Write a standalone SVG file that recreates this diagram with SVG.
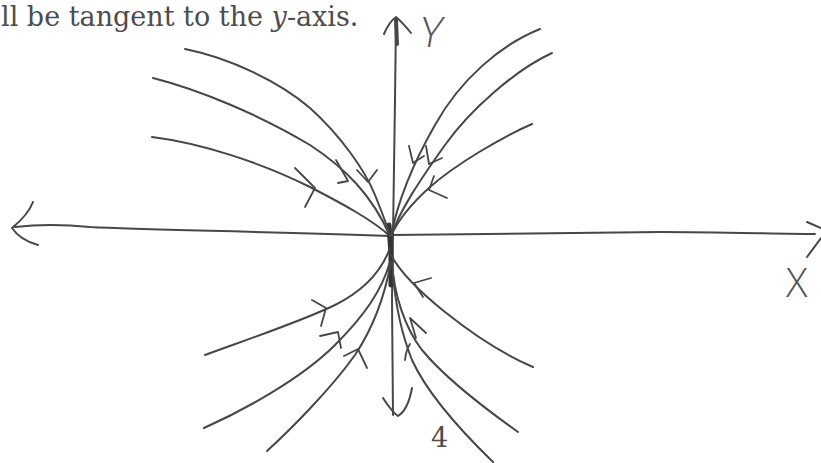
<svg xmlns="http://www.w3.org/2000/svg" width="821" height="463" viewBox="0 0 821 463">
<style>
.ln{fill:none;stroke:#474747;stroke-width:2;stroke-linecap:round;stroke-linejoin:round}
.ar{fill:none;stroke:#474747;stroke-width:1.8;stroke-linecap:round;stroke-linejoin:round}
.cap{font-family:"DejaVu Serif","Liberation Serif",serif;font-size:27px;fill:#4d4d4d}
.hand{font-family:"Open Sans","DejaVu Sans",sans-serif;font-weight:300;fill:#555}
</style>
<rect width="821" height="463" fill="#fff"/>
<text id="caption" class="cap" x="1" y="26">ll be tangent to the <tspan font-style="italic">y</tspan>-axis.</text>
<g id="axes">
<path class="ln" d="M396,18 L395,100 L393,235 L392,300 L393,415"/>
<path class="ln" d="M384,34 Q389,22 396,17 Q403,23 411,33"/>
<path class="ln" style="stroke-width:4" d="M396,20 L397,44"/>
<path class="ln" d="M383,398 Q392,412 398,416 Q408,410 412,388"/>
<path class="ln" d="M15,227 C40,224 60,224 90,227 C150,230 250,231 390,236"/>
<path class="ln" d="M33,202 Q28,215 12,228 Q20,240 38,245"/>
<path class="ln" d="M392,235 C500,233 600,233 660,232 C720,232 780,234 815,234"/>
<path class="ln" d="M807,222 L821,228 M821,238 L807,257"/>
<path class="ln" style="stroke-width:5;stroke:#333" d="M389,225 L391,255 L391,285"/>
</g>
<text class="hand" x="426" y="47" font-size="42" transform="skewX(-10)">Y</text>
<text class="hand" x="786" y="297" font-size="40">X</text>
<text class="cap" x="431" y="447" font-size="26">4</text>
<g id="trajectories">
<path class="ln" d="M185,49 C230,58 280,82 310,108 C340,135 365,170 375,195 C383,215 388,228 390,236"/>
<path class="ln" d="M153,78 C200,90 260,115 310,145 C345,168 372,195 390,236"/>
<path class="ln" d="M152,137 C200,143 260,162 310,187 C345,205 372,220 390,236"/>
<path class="ln" d="M540,29 C500,45 460,80 435,125 C415,160 398,200 391,236"/>
<path class="ln" d="M552,53 C515,70 470,110 445,145 C420,180 400,210 391,236"/>
<path class="ln" d="M532,124 C500,138 455,165 430,187 C410,205 398,220 391,236"/>
<path class="ln" d="M205,355 C240,342 300,322 335,305 C365,290 382,270 390,248"/>
<path class="ln" d="M204,428 C240,412 300,380 335,345 C365,315 382,290 390,262"/>
<path class="ln" d="M267,451 C290,430 330,390 355,355 C375,325 385,295 391,262"/>
<path class="ln" d="M391,255 C400,272 420,292 445,312 C475,336 505,355 533,367"/>
<path class="ln" d="M392,262 C394,295 405,328 422,350 C445,378 480,405 518,432"/>
<path class="ln" d="M393,275 C396,310 402,335 412,360 C428,395 460,430 493,462"/>
</g>
<g id="arrows">
<path class="ar" d="M295,168 L315,188 L305,207"/>
<path class="ar" d="M336,160 L348,181 L338,183"/>
<path class="ar" d="M357,170 L368,182 L377,170"/>
<path class="ar" d="M409,146 L413,163 L424,156"/>
<path class="ar" d="M426,146 L429,164 L442,158"/>
<path class="ar" d="M434,176 L429,190 L447,198"/>
<path class="ar" d="M312,300 L326,308 L321,326"/>
<path class="ar" d="M320,336 L338,332 L341,348"/>
<path class="ar" d="M344,356 L358,349 L367,368"/>
<path class="ar" d="M431,278 L414,283 L423,297"/>
<path class="ar" d="M416,338 L410,318 L426,333"/>
<path class="ar" d="M405,360 Q406,350 410,344"/>
</g>
</svg>
